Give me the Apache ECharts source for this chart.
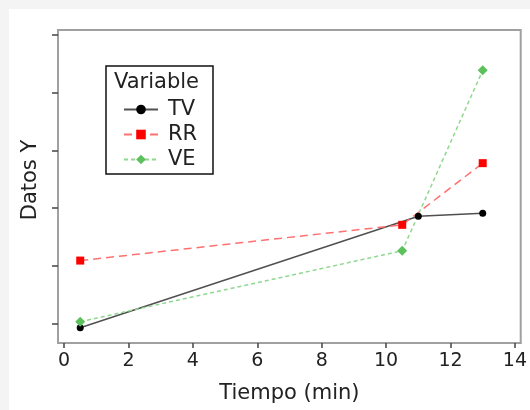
<!DOCTYPE html>
<html>
<head>
<meta charset="utf-8">
<script src="https://cdn.jsdelivr.net/npm/echarts@6/dist/echarts.min.js"></script>
<style>
  html, body { margin: 0; padding: 0; background: #f4f4f4; }
  #chart { width: 530px; height: 410px; }
</style>
</head>
<body>
<div id="chart"></div>
<script>
// Tiempo (min) para cada variable
const tvX = [0.5, 11, 13];
const tvY = [-0.075, 1.86, 1.91];
const rrX = [0.5, 10.5, 13];
const rrY = [1.09, 1.71, 2.78];
const veX = [0.5, 10.5, 13];
const veY = [0.03, 1.26, 4.39];
const xTicks = [0, 2, 4, 6, 8, 10, 12, 14];
const yTicks = [0, 1, 2, 3, 4, 5];

const pairs = (xs, ys) => xs.map((x, i) => [x, ys[i]]);
const font = "DejaVu Sans";

const chart = echarts.init(document.getElementById("chart"));

chart.setOption({
  backgroundColor: "#f4f4f4",
  animation: false,
  grid: {
    left: 58, top: 30, right: 8, bottom: 67,
    show: true, borderColor: "#a0a0a0", borderWidth: 2, backgroundColor: "#fff"
  },
  xAxis: {
    type: "value",
    min: -0.19,
    max: 14.18,
    splitLine: { show: false },
    axisLine: { onZero: false, lineStyle: { color: "#a0a0a0", width: 2 } },
    axisTick: { customValues: xTicks, length: 5, lineStyle: { color: "#444", width: 1.5 } },
    axisLabel: { customValues: xTicks, margin: 9, fontFamily: font, fontSize: 19, color: "#222" },
    name: "Tiempo (min)",
    nameLocation: "middle",
    nameGap: 40,
    nameTextStyle: { fontFamily: font, fontSize: 21, color: "#222" }
  },
  yAxis: {
    type: "value",
    min: -0.34,
    max: 5.09,
    splitLine: { show: false },
    axisLine: { onZero: false, lineStyle: { color: "#a0a0a0", width: 2 } },
    axisTick: { customValues: yTicks, length: 6, lineStyle: { color: "#444", width: 1.5 } },
    axisLabel: { show: false }
  },
  legend: {
    orient: "vertical",
    left: 123,
    top: 99,
    padding: 0,
    itemGap: 4,
    itemWidth: 34,
    itemHeight: 12,
    textStyle: { fontFamily: font, fontSize: 21, color: "#222", padding: [0, 0, 0, 5] },
    data: ["TV", "RR", "VE"]
  },
  graphic: [
    {
      type: "rect", z: -100,
      shape: { x: 9, y: 9, width: 530, height: 410 },
      style: { fill: "#fff" }
    },
    {
      type: "rect",
      shape: { x: 106, y: 66, width: 107, height: 108 },
      style: { fill: "none", stroke: "#111", lineWidth: 1.5 }
    },
    {
      type: "text", x: 114, y: 83,
      style: { text: "Variable", font: "21px " + font, fill: "#222", textVerticalAlign: "middle" }
    },
    {
      type: "text", x: 31, y: 180, rotation: Math.PI / 2,
      style: { text: "Datos Y", font: "21px " + font, fill: "#222", textAlign: "center", textVerticalAlign: "middle" }
    }
  ],
  series: [
    {
      name: "TV", type: "line", data: pairs(tvX, tvY),
      symbol: "circle", symbolSize: 7,
      itemStyle: { color: "#000" },
      lineStyle: { color: "#505050", width: 1.5 }
    },
    {
      name: "RR", type: "line", data: pairs(rrX, rrY),
      symbol: "rect", symbolSize: 8,
      itemStyle: { color: "#ff0000" },
      lineStyle: { color: "#ff7070", width: 1.5, type: [8, 5] }
    },
    {
      name: "VE", type: "line", data: pairs(veX, veY),
      symbol: "diamond", symbolSize: 10,
      itemStyle: { color: "#5cc05c" },
      lineStyle: { color: "#8fd88f", width: 1.5, type: [4, 3] }
    }
  ]
});
</script>
</body>
</html>
